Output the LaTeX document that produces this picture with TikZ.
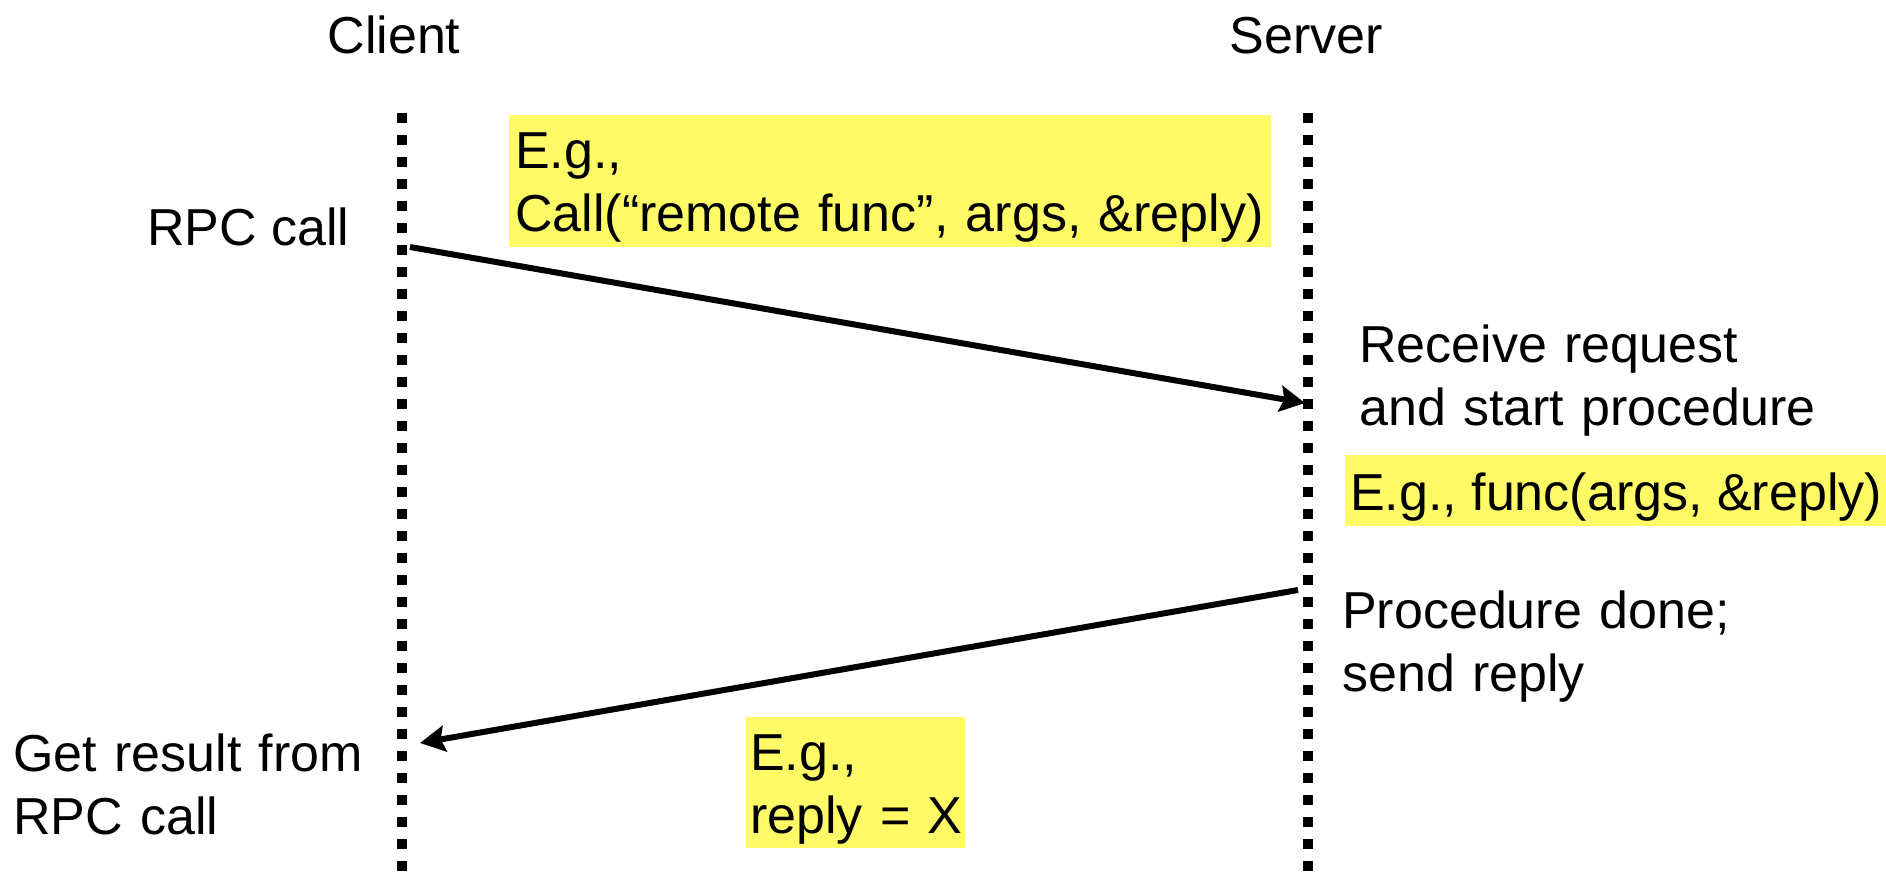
\documentclass[tikz,border=0pt]{standalone}
\usepackage{fontspec}
\setmainfont{Liberation Sans}
\usetikzlibrary{arrows.meta}
\definecolor{hl}{RGB}{255,250,102}
\begin{document}
\begin{tikzpicture}[x=1pt,y=-1pt,
  lbl/.style={font=\fontsize{52}{63}\selectfont, inner sep=0pt, align=left, anchor=base west},
  mlbl/.style={lbl, text width=700pt},
  hlbox/.style={font=\fontsize{52}{63}\selectfont, fill=hl, align=left, anchor=base west},
  head/.style={font=\fontsize{52}{63}\selectfont, inner sep=0pt, anchor=base},
  life/.style={line width=10pt, dash pattern=on 10pt off 12pt},
  msg/.style={line width=6pt, -{Stealth[length=25pt,width=26pt,inset=4pt]}}]
\useasboundingbox (0,0) rectangle (1886,871);
% headers
\node[head] (client) at (394,53) {Client};
\node[head] (server) at (1306,53) {Server};
% lifelines
\coordinate (ctop) at (402,113);
\coordinate (cbot) at (402,871);
\coordinate (stop) at (1308,113);
\coordinate (sbot) at (1308,871);
\draw[life] (ctop) -- (cbot);
\draw[life] (stop) -- (sbot);
% labels
\node[lbl] (rpc) at (147,245) {RPC call};
\node[mlbl] (recv) at (1359,362) {Receive request\\and start procedure};
\node[mlbl] (done) at (1342,628) {Procedure done;\\send reply};
\node[mlbl] (get) at (13,771) {Get result from\\RPC call};
% highlighted boxes
\node[hlbox, text width=750pt, inner xsep=6pt, inner ysep=3pt, text height=50pt, text depth=76pt] (eg1) at (509,168) {E.g.,\\\mbox{Call(“remote func”, args, \&reply)}};
\node[hlbox, inner xsep=5pt, inner ysep=5pt, text height=50pt, text depth=11pt, minimum width=541pt] (eg2) at (1345,510) {E.g., func(args, \&reply)};
\node[hlbox, text width=215pt, inner xsep=2pt, inner ysep=3pt, text height=50pt, text depth=75pt] (eg3) at (746,770) {\hspace*{2pt}E.g.,\\\hspace*{2pt}\mbox{reply = X}};
% messages
\coordinate (c1) at (410,247);
\coordinate (s1) at (1305,403);
\coordinate (s2) at (1298,590);
\coordinate (c2) at (420,743);
\draw[msg] (c1) -- (s1);
\draw[msg] (s2) -- (c2);
\end{tikzpicture}
\end{document}
